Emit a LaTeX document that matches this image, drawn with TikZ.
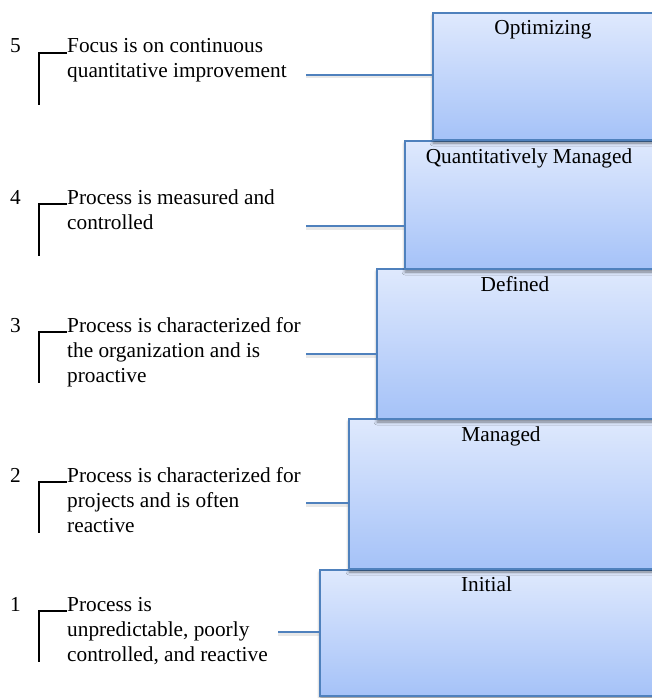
\documentclass[tikz,border=0pt]{standalone}
\usepackage{fontspec}
\setmainfont{Liberation Serif}
\usetikzlibrary{shadows.blur}
\definecolor{boxedge}{HTML}{4F81BD}
\definecolor{boxtop}{HTML}{DFE9FD}
\definecolor{boxbot}{HTML}{A5C2F8}
\begin{document}
\begin{tikzpicture}[x=1pt,y=-1pt,
  font=\fontsize{21.3}{25}\selectfont,
  level/.style={draw=boxedge, line width=2pt, top color=boxtop, bottom color=boxbot,
    anchor=north west, inner sep=0pt,
    blur shadow={shadow xshift=0pt, shadow yshift=-3pt, shadow blur radius=3pt, shadow opacity=45}},
  title/.style={anchor=base, inner sep=0pt, xshift=-3pt},
  desc/.style={anchor=base west, align=left, inner sep=0pt},
  num/.style={anchor=base west, inner sep=0pt},
  conn/.style={draw=boxedge, line width=2.5pt},
  connshadow/.style={draw=gray, opacity=0.18, line width=3pt},
  brk/.style={draw=black, line width=1.6pt}]
\useasboundingbox (0,0) rectangle (651,698);
% boxes (lowest first so upper shadows fall on lower boxes)
\node[level, minimum width=339pt, minimum height=126pt] (init) at (319,569) {};
\node[level, minimum width=310pt, minimum height=150pt] (man) at (348,418) {};
\node[level, minimum width=282pt, minimum height=150pt] (def) at (376,268) {};
\node[level, minimum width=254pt, minimum height=128pt] (qm) at (404,140) {};
\node[level, minimum width=226pt, minimum height=127pt] (opt) at (432,12) {};
% titles
\node[title] (t5) at ([yshift=-23pt]opt.north) {Optimizing};
\node[title] (t4) at ([yshift=-23pt]qm.north) {Quantitatively Managed};
\node[title] (t3) at ([yshift=-23pt]def.north) {Defined};
\node[title] (t2) at ([yshift=-23pt]man.north) {Managed};
\node[title] (t1) at ([yshift=-22pt]init.north) {Initial};
% connectors
\coordinate (c5) at (306,75);
\coordinate (c4) at (306,226);
\coordinate (c3) at (306,354);
\coordinate (c2) at (306,503);
\coordinate (c1) at (278,632);
\draw[connshadow] ([yshift=-2pt]c5) -- ([yshift=-2pt]opt.west |- c5);
\draw[connshadow] ([yshift=-2pt]c4) -- ([yshift=-2pt]qm.west |- c4);
\draw[connshadow] ([yshift=-2pt]c3) -- ([yshift=-2pt]def.west |- c3);
\draw[connshadow] ([yshift=-2pt]c2) -- ([yshift=-2pt]man.west |- c2);
\draw[connshadow] ([yshift=-2pt]c1) -- ([yshift=-2pt]init.west |- c1);
\draw[conn] (c5) -- (opt.west |- c5);
\draw[conn] (c4) -- (qm.west |- c4);
\draw[conn] (c3) -- (def.west |- c3);
\draw[conn] (c2) -- (man.west |- c2);
\draw[conn] (c1) -- (init.west |- c1);
% numbers
\node[num] (n5) at (10,53) {5};
\node[num] (n4) at (10,204) {4};
\node[num] (n3) at (10,332) {3};
\node[num] (n2) at (10,482) {2};
\node[num] (n1) at (10,611) {1};
% descriptions (anchored at the baseline of their last line)
\node[desc] (d5) at (67,78) {Focus is on continuous\\quantitative improvement};
\node[desc] (d4) at (67,229) {Process is measured and\\controlled};
\node[desc] (d3) at (67,382) {Process is characterized for\\the organization and is\\proactive};
\node[desc] (d2) at (67,532) {Process is characterized for\\projects and is often\\reactive};
\node[desc] (d1) at (67,661) {Process is\\unpredictable, poorly\\controlled, and reactive};
% brackets
\draw[brk] (d5.west |- n5.base) -- ++(-28,0) -- ++(0,52);
\draw[brk] (d4.west |- n4.base) -- ++(-28,0) -- ++(0,52);
\draw[brk] (d3.west |- n3.base) -- ++(-28,0) -- ++(0,51);
\draw[brk] (d2.west |- n2.base) -- ++(-28,0) -- ++(0,51);
\draw[brk] (d1.west |- n1.base) -- ++(-28,0) -- ++(0,51);
\end{tikzpicture}
\end{document}
